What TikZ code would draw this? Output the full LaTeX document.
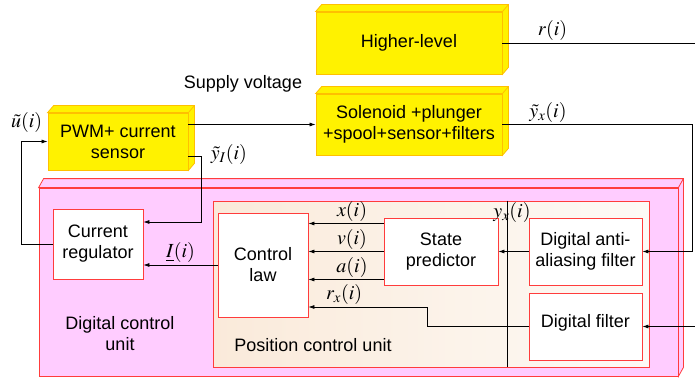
\documentclass[tikz,border=0pt]{standalone}
\usepackage{amsmath}
\usepackage{mathptmx}
\usepackage{fontspec}
\setmainfont{Liberation Sans}
\usetikzlibrary{positioning,arrows.meta,calc}

\definecolor{boxedge}{RGB}{255,192,0}
\definecolor{pinkfill}{RGB}{255,204,255}
\definecolor{redline}{RGB}{255,60,60}
\definecolor{beige}{RGB}{250,234,218}
\definecolor{beigelight}{RGB}{253,250,246}

\begin{document}
\begin{tikzpicture}[
    x=1pt, y=-1pt,
    every node/.style = {font=\fontsize{18}{21}\selectfont},
    yb/.style  = {draw=boxedge, fill=yellow, line width=0.8pt, align=center, inner sep=0pt},
    wb/.style  = {draw=redline, fill=white, line width=0.8pt, align=center, inner sep=0pt},
    ml/.style  = {font=\fontsize{20}{24}\selectfont, inner sep=2pt},
    ln/.style  = {line width=0.7pt},
    arr/.style = {ln, -{Latex[length=6pt,width=4pt]}},
  ]
    \useasboundingbox (0,0) rectangle (695,377);

    % digital control unit
    \node[draw=redline, fill=pinkfill, line width=0.8pt, minimum width=639pt, minimum height=188pt] (dcu) at (358.5,282) {};
    \filldraw[fill=pinkfill, draw=redline, line width=0.8pt]
      (dcu.north west) -- ++(5,-9) -- ([shift={(5,-9)}]dcu.north east) -- ([shift={(5,-9)}]dcu.south east)
      -- (dcu.south east) -- (dcu.north east) -- cycle (dcu.north east) -- ++(5,-9);
    \node[draw=redline, left color=beige, right color=beigelight, line width=0.8pt, minimum width=436pt, minimum height=166pt] (pcu) at (431,284) {};
    \draw[ln] ($(pcu.north west)!0.674!(pcu.north east)$) -- ($(pcu.south west)!0.674!(pcu.south east)$);

    % blocks
    \node[yb, minimum width=186pt, minimum height=62pt] (hl)  at (409,43)    {Higher-level};
    \node[yb, minimum width=186pt, minimum height=61pt] (sol) at (409,124.5) {Solenoid +plunger\\+spool+sensor+filters};
    \node[yb, minimum width=140pt, minimum height=57pt] (pwm) at (118,141.5) {PWM+ current\\sensor};
    \foreach \n in {hl,sol,pwm} {
      \filldraw[fill=yellow, draw=boxedge, line width=0.8pt]
        (\n.north west) -- ++(6,-7) -- ([shift={(6,-7)}]\n.north east) -- ([shift={(6,-7)}]\n.south east)
        -- (\n.south east) -- (\n.north east) -- cycle (\n.north east) -- ++(6,-7);
    }
    \node[wb, minimum width=90pt,  minimum height=70pt]  (creg) at (98,244)    {Current\\regulator};
    \node[wb, minimum width=90pt,  minimum height=104pt] (claw) at (263,265)   {Control\\law};
    \node[wb, minimum width=114pt, minimum height=67pt]  (sp)   at (441,251.5) {State\\predictor};
    \node[wb, minimum width=113pt, minimum height=67pt]  (aaf)  at (585.5,251.5) {Digital anti-\\aliasing filter};
    \node[wb, minimum width=113pt, minimum height=67pt, text depth=12pt] (df) at (585.5,326.5) {Digital filter};

    % texts
    \node (sv)   at (243,84)  {Supply voltage};
    \node[align=center] (dcul) at (120,334) {Digital control\\unit};
    \node (pcul) at (313,345) {Position control unit};
    \node[ml] (yx) at (512,212) {$y_x(i)$};

    % connectors
    \coordinate (rin)  at (695,43);
    \coordinate (dfin) at (695,326.5);
    \draw[ln] (hl.east) -- node[ml, above, pos=0.26] {$r(i)$} (rin);
    \draw[arr] (sol.east) -- node[ml, above, pos=0.24] {$\tilde{y}_x(i)$} ++(190,0) |- (aaf.east);
    \draw[arr] (dfin) -- (df.east);
    \draw[arr] (aaf.west) -- (sp.east);
    \draw[arr] (df.west) -- ++(-101,0) |- node[ml, pos=0.85, above] {$r_x(i)$} ([yshift=-42pt]claw.east);
    \foreach \dy/\lab in {-28/x, 0/v, 28/a}
      \draw[arr] (sp.west) ++(0,\dy) coordinate (s) -- node[ml, above, pos=0.42] {$\lab(i)$} (s -| claw.east);
    \draw[arr] (claw.west) -- node[ml, above] {$\underline{\boldsymbol{I}}(i)$} (claw.west -| creg.east);
    \draw[arr] ([yshift=-14.5pt]pwm.east) -- ++(13,0) node[ml, right=7pt, yshift=2pt] {$\tilde{y}_I(i)$} |- ([yshift=22pt]creg.east);
    \draw[arr] (creg.west) -- ++(-31,0) |- node[ml, pos=0.5, above=7pt, xshift=5pt] {$\tilde{u}(i)$} (pwm.west);
    \draw[arr] ([yshift=17pt]pwm.east) -- (sol.west);
\end{tikzpicture}
\end{document}
